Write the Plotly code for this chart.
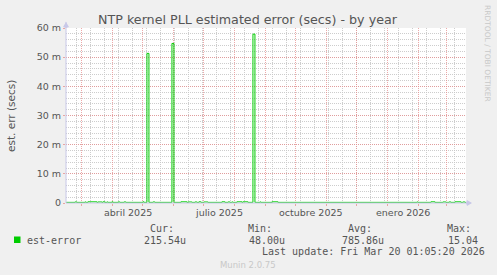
import plotly.graph_objects as go

# ---------------- data ----------------
range_start = "2025-02-13 01:05:20"
range_end = "2026-03-20 01:05:20"
baseline_value = 0.000215  # secs, sits on the zero line

event_start = [
    "2025-02-22", "2025-03-04", "2025-03-07", "2025-03-17", "2025-03-22",
    "2025-03-26", "2025-03-31", "2025-04-06", "2025-04-12", "2025-05-01",
    "2025-05-05", "2025-05-11", "2025-05-30", "2025-06-08", "2025-06-15",
    "2025-06-22", "2025-06-26", "2025-07-01", "2025-07-19", "2025-07-25",
    "2025-07-29", "2025-08-03", "2025-08-09", "2025-08-19", "2025-08-26",
    "2025-09-07", "2026-01-30", "2026-02-13", "2026-02-25", "2026-03-03",
    "2026-03-09", "2026-03-17",
]
event_end = [
    "2025-02-24", "2025-03-05", "2025-03-16", "2025-03-21", "2025-03-24",
    "2025-03-27", "2025-04-01", "2025-04-08", "2025-04-14", "2025-05-02",
    "2025-05-07", "2025-05-13", "2025-06-01", "2025-06-14", "2025-06-19",
    "2025-06-24", "2025-06-28", "2025-07-05", "2025-07-22", "2025-07-27",
    "2025-07-30", "2025-08-08", "2025-08-14", "2025-08-21", "2025-08-27",
    "2025-09-13", "2026-01-31", "2026-02-17", "2026-02-28", "2026-03-05",
    "2026-03-15", "2026-03-19",
]
event_value = [
    0.00035, 0.00035, 0.0004, 0.00035, 0.0004,
    0.00035, 0.0004, 0.00035, 0.00035, 0.0004,
    0.0513, 0.00035, 0.0547, 0.0004, 0.00035,
    0.00035, 0.0004, 0.00035, 0.0004, 0.00035,
    0.00035, 0.0004, 0.0004, 0.0579, 0.00035,
    0.0004, 0.00035, 0.0004, 0.00035, 0.00035,
    0.0004, 0.00035,
]

month_starts = [
    "2025-03-01", "2025-04-01", "2025-05-01", "2025-06-01", "2025-07-01",
    "2025-08-01", "2025-09-01", "2025-10-01", "2025-11-01", "2025-12-01",
    "2026-01-01", "2026-02-01", "2026-03-01",
]
label_dates = ["2025-04-16", "2025-07-16", "2025-10-16", "2026-01-16"]
label_texts = ["abril 2025", "julio 2025", "octubre 2025", "enero 2026"]

y_tickvals = [0, 0.01, 0.02, 0.03, 0.04, 0.05, 0.06]
y_ticktext = ["0", "10 m", "20 m", "30 m", "40 m", "50 m", "60 m"]

series_name = "est-error"
legend_cur, legend_min, legend_avg, legend_max = "215.54u", "48.00u", "785.86u", "15.04"
last_update = "Last update: Fri Mar 20 01:05:20 2026"

# ---------------- build step series ----------------
xs = [range_start]
ys = [baseline_value]
for s, e, v in zip(event_start, event_end, event_value):
    xs += [s, e]
    ys += [v, baseline_value]
xs.append(range_end)
ys.append(baseline_value)

# ---------------- layout geometry ----------------
W, H = 497, 275
L, R, T, B = 66, 31, 28, 72
PW, PH = W - L - R, H - T - B


def px(x):
    return (x - L) / PW


def py(y):
    return (T + PH - y) / PH


GREEN = "#00cc00"
TXT = "#555555"
RED_GRID = "rgba(230,140,140,0.75)"
GRAY_GRID = "rgba(200,200,200,0.9)"
AXIS = "#c8c8e8"

fig = go.Figure()
fig.add_trace(go.Scatter(
    x=xs, y=ys, mode="lines", line=dict(color=GREEN, width=1, shape="hv"),
    name=series_name, showlegend=False, hoverinfo="skip",
))

fig.update_layout(
    width=W, height=H,
    margin=dict(l=L, r=R, t=T, b=B),
    paper_bgcolor="#f0f0f0", plot_bgcolor="#ffffff",
    showlegend=False,
    font=dict(family="DejaVu Sans", color=TXT, size=10),
    xaxis=dict(
        type="date", range=[range_start, range_end],
        tickmode="array", tickvals=month_starts, showticklabels=False,
        showgrid=True, gridcolor=RED_GRID, griddash="1px,1px", gridwidth=1,
        ticks="outside", ticklen=2, tickcolor=RED_GRID,
        minor=dict(tickmode="linear", tick0="2025-02-24", dtick=14 * 86400000,
                   showgrid=True, gridcolor=GRAY_GRID, griddash="1px,1px", ticks=""),
        showline=False, zeroline=False, fixedrange=True,
    ),
    yaxis=dict(
        range=[0, 0.06], tickmode="array", tickvals=y_tickvals, ticktext=y_ticktext,
        tickfont=dict(size=9.5, color=TXT),
        showgrid=True, gridcolor=RED_GRID, griddash="1px,1px", gridwidth=1,
        ticks="outside", ticklen=2, tickcolor=RED_GRID,
        minor=dict(tickmode="linear", tick0=0, dtick=0.002,
                   showgrid=True, gridcolor=GRAY_GRID, griddash="1px,1px", ticks=""),
        showline=False, zeroline=False, fixedrange=True,
    ),
)

ann = []
# title
ann.append(dict(text="NTP kernel PLL estimated error (secs) - by year", xref="paper", yref="paper",
                x=px(248), y=py(19), xanchor="center", yanchor="middle", showarrow=False,
                font=dict(size=12.7, color=TXT)))
# y axis title
ann.append(dict(text="est. err (secs)", xref="paper", yref="paper", x=px(11), y=py(116),
                xanchor="center", yanchor="middle", textangle=-90, showarrow=False,
                font=dict(size=10.5, color=TXT)))
# x tick labels
for d, t in zip(label_dates, label_texts):
    ann.append(dict(text=t, xref="x", yref="paper", x=d, y=py(212.5), xanchor="center",
                    yanchor="middle", showarrow=False, font=dict(size=9.5, color=TXT)))
# watermark
ann.append(dict(text="RRDTOOL / TOBI OETIKER", xref="paper", yref="paper", x=px(488), y=py(53),
                xanchor="center", yanchor="middle", textangle=90, showarrow=False,
                font=dict(size=7.5, color="#c8c8c8")))
# legend
mono = "DejaVu Sans Mono"
rows = [
    (series_name, 24.5, 240), ("Cur:", 147.5, 228), (legend_cur, 141.5, 240),
    ("Min:", 246, 228), (legend_min, 246.5, 240), ("Avg:", 345.5, 228),
    (legend_avg, 339.5, 240), ("Max:", 445, 228), (legend_max, 445.5, 240),
    (last_update, 259.5, 251.5),
]
for t, x, y in rows:
    ann.append(dict(text=t, xref="paper", yref="paper", x=px(x), y=py(y), xanchor="left",
                    yanchor="middle", showarrow=False, font=dict(family=mono, size=10, color=TXT)))
ann.append(dict(text="Munin 2.0.75", xref="paper", yref="paper", x=px(248), y=py(264.5),
                xanchor="center", yanchor="middle", showarrow=False,
                font=dict(size=8.5, color="#c8c8c8")))
fig.update_layout(annotations=ann)

shapes = [
    # legend colour box
    dict(type="rect", xref="paper", yref="paper", x0=px(14), x1=px(20.5), y0=py(243), y1=py(236.5),
         fillcolor=GREEN, line=dict(width=0)),
    # axis arrows
    dict(type="path", xref="paper", yref="paper", xsizemode="pixel", ysizemode="pixel",
         xanchor=1, yanchor=0, path="M 0,0 L 1,-3 L 6,0 L 1,3 Z",
         fillcolor=AXIS, line=dict(width=0)),
    dict(type="path", xref="paper", yref="paper", xsizemode="pixel", ysizemode="pixel",
         xanchor=0, yanchor=1, path="M 0,0 L -3,1 L 0,6 L 3,1 Z",
         fillcolor=AXIS, line=dict(width=0)),
    dict(type="line", xref="paper", yref="paper", x0=0, x1=1.0125, y0=0, y1=0,
         line=dict(color=AXIS, width=1)),
    dict(type="line", xref="paper", yref="paper", x0=0, x1=0, y0=0, y1=1.035,
         line=dict(color=AXIS, width=1)),
]
fig.update_layout(shapes=shapes)

fig.write_html("out.html")
